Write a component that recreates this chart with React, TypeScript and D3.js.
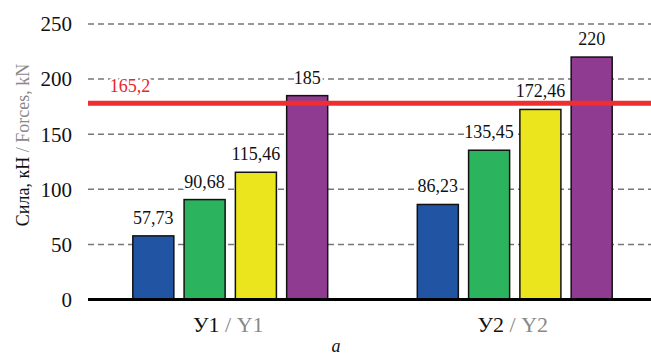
import { useRef, useEffect } from 'react';
import * as d3 from 'd3';

const groups = ['У1', 'У2'];
const groupsEn = ['Y1', 'Y2'];
const series = ['s1', 's2', 's3', 's4'];
const seriesColors = ['#2155a3', '#2bb35e', '#ebe51e', '#8f3b91'];
const valuesY1 = [57.73, 90.68, 115.46, 185];
const valuesY2 = [86.23, 135.45, 172.46, 220];
const yTicks = [0, 50, 100, 150, 200, 250];
// red limit line: drawn position, label as printed
const limitValue = 178;
const limitLabel = '165,2';

const fmt = (v: number) => String(v).replace('.', ',');

export default function App() {
  const svgRef = useRef<SVGSVGElement>(null);
  const width = 651;
  const height = 357;

  useEffect(() => {
    const svg = d3.select(svgRef.current);
    svg.selectAll('*').remove();

    const x0 = d3.scaleBand<string>().domain(groups).range([88, 657])
      .paddingInner(0.315).paddingOuter(0.1575);
    const x1 = d3.scaleBand<string>().domain(series).range([0, x0.bandwidth()])
      .paddingInner(0.2).paddingOuter(0);
    const y = d3.scaleLinear().domain([0, 250]).range([299.5, 24]);

    const serif = '"Liberation Serif", "Times New Roman", serif';

    // gridlines
    yTicks.filter(t => t > 0).forEach(t => {
      svg.append('line')
        .attr('x1', 88).attr('x2', width).attr('y1', y(t)).attr('y2', y(t))
        .attr('stroke', '#777').attr('stroke-width', 1.5)
        .attr('stroke-dasharray', '6,4');
    });

    // tick labels
    yTicks.forEach(t => {
      svg.append('text')
        .attr('x', 72).attr('y', y(t)).attr('dy', '0.35em')
        .attr('text-anchor', 'end').attr('font-family', serif)
        .attr('font-size', 21).attr('fill', '#111').text(t);
    });

    // y title
    const title = svg.append('text')
      .attr('transform', `translate(29,145) rotate(-90)`)
      .attr('text-anchor', 'middle').attr('font-family', serif)
      .attr('font-size', 18);
    title.append('tspan').attr('fill', '#111').text('Сила, кН ');
    title.append('tspan').attr('fill', '#888').text('/ Forces, kN');

    const data = [valuesY1, valuesY2];

    // bars
    data.forEach((vals, gi) => {
      const gx = x0(groups[gi])!;
      vals.forEach((v, si) => {
        svg.append('rect')
          .attr('x', gx + x1(series[si])!).attr('y', y(v))
          .attr('width', x1.bandwidth()).attr('height', y(0) - y(v))
          .attr('fill', seriesColors[si])
          .attr('stroke', '#111').attr('stroke-width', 1.5);
      });
    });

    // baseline
    svg.append('line')
      .attr('x1', 88).attr('x2', width).attr('y1', y(0)).attr('y2', y(0))
      .attr('stroke', '#000').attr('stroke-width', 3);

    // value labels
    data.forEach((vals, gi) => {
      const gx = x0(groups[gi])!;
      vals.forEach((v, si) => {
        svg.append('text')
          .attr('x', gx + x1(series[si])! + x1.bandwidth() / 2)
          .attr('y', y(v) - 12)
          .attr('text-anchor', 'middle').attr('font-family', serif)
          .attr('font-size', 18).attr('fill', '#111')
          .attr('stroke', '#fff').attr('stroke-width', 5)
          .attr('paint-order', 'stroke').attr('stroke-linejoin', 'round')
          .text(fmt(v));
      });
    });

    // limit line
    svg.append('line')
      .attr('x1', 88).attr('x2', width).attr('y1', y(limitValue)).attr('y2', y(limitValue))
      .attr('stroke', '#ee2e30').attr('stroke-width', 5);
    svg.append('text')
      .attr('x', 130).attr('y', y(limitValue) - 11)
      .attr('text-anchor', 'middle').attr('font-family', serif)
      .attr('font-size', 18).attr('fill', '#e8262b')
      .attr('stroke', '#fff').attr('stroke-width', 5)
      .attr('paint-order', 'stroke').attr('stroke-linejoin', 'round')
      .text(limitLabel);

    // x labels
    groups.forEach((gname, gi) => {
      const t = svg.append('text')
        .attr('x', x0(gname)! + x0.bandwidth() / 2 - 2).attr('y', 331.5)
        .attr('text-anchor', 'middle').attr('font-family', serif)
        .attr('font-size', 22);
      t.append('tspan').attr('fill', '#111').text(`${gname} `);
      t.append('tspan').attr('fill', '#888').text(`/ ${groupsEn[gi]}`);
    });

    // panel letter
    svg.append('text')
      .attr('x', 336).attr('y', 352)
      .attr('text-anchor', 'middle').attr('font-family', serif)
      .attr('font-style', 'italic').attr('font-size', 18).attr('fill', '#111')
      .text('a');
  }, []);

  return (
    <svg ref={svgRef} width={width} height={height}
      style={{ position: 'absolute', left: 0, top: 0, display: 'block', background: '#fff' }} />
  );
}
